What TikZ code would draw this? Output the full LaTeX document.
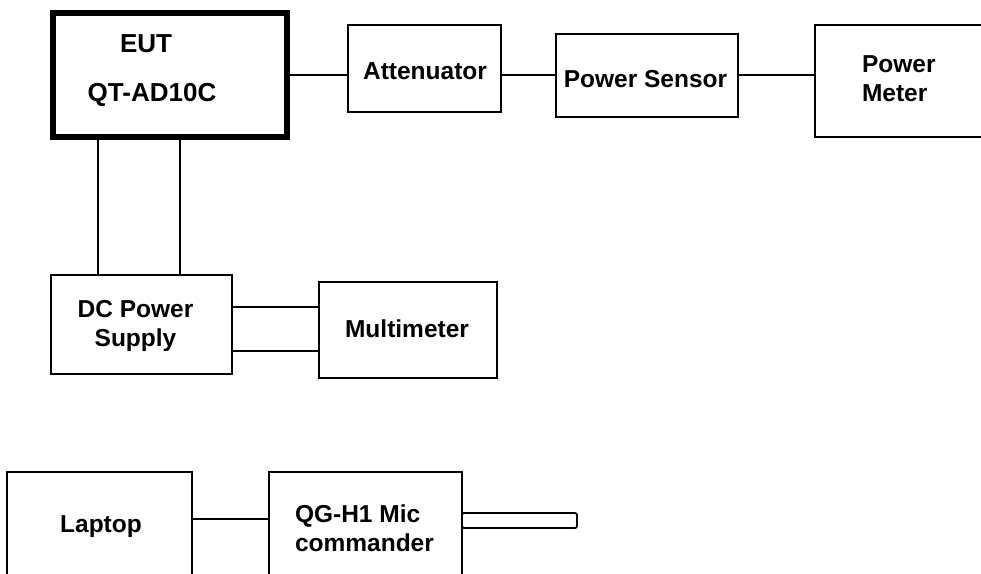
\documentclass[tikz,border=0pt]{standalone}
\usepackage{fontspec}
\setmainfont{Liberation Sans}
\begin{document}
\begin{tikzpicture}[x=1pt,y=-1pt,
  box/.style={draw=black,line width=1.8pt,inner sep=0pt,outer sep=0pt},
  wire/.style={draw=black,line width=1.8pt},
  lbl/.style={inner sep=0pt,outer sep=0pt,font=\bfseries\fontsize{24.5}{29}\selectfont},
  biglbl/.style={inner sep=0pt,outer sep=0pt,font=\bfseries\fontsize{26}{31}\selectfont}]
\useasboundingbox (0,0) rectangle (981,573);
\fill[white] (0,0) rectangle (981,573);
% boxes
\node[box,line width=6pt,minimum width=234pt,minimum height=124pt] (eut) at (170,75) {};
\node[box,minimum width=153pt,minimum height=87pt] (att) at (424.5,68.5) {};
\node[box,minimum width=182pt,minimum height=83pt] (ps) at (647,75.5) {};
\node[box,minimum width=195pt,minimum height=112pt] (pm) at (912.5,81) {};
\node[box,minimum width=181pt,minimum height=99pt] (dc) at (141.5,324.5) {};
\node[box,minimum width=178pt,minimum height=96pt] (mm) at (408,330) {};
\node[box,minimum width=185pt,minimum height=150pt] (lap) at (99.5,547) {};
\node[box,minimum width=193pt,minimum height=150pt] (mic) at (365.5,547) {};
\node[box,rounded corners=2pt,minimum width=115pt,minimum height=15pt] (ant) at (519.5,520.5) {};
% labels
\node[biglbl,anchor=base] (teut) at (146,52.3) {EUT};
\node[biglbl,anchor=base] (tqt) at (152,101) {QT-AD10C};
\node[lbl,anchor=base] (tatt) at (425,79) {Attenuator};
\node[lbl,anchor=base] (tps) at (645.5,87) {Power Sensor};
\node[lbl,anchor=north west,align=left] (tpm) at (862,51.7) {\strut Power\\\strut Meter};
\node[lbl,anchor=north,align=center] (tdc) at (135.5,296.7) {\strut DC Power\\\strut Supply};
\node[lbl,anchor=base] (tmm) at (407,337) {Multimeter};
\node[lbl,anchor=base] (tlap) at (101,532) {Laptop};
\node[lbl,anchor=north west,align=left] (tmic) at (295,501.7) {\strut QG-H1 Mic\\\strut commander};
% connectors
\coordinate (r1) at (0,75);
\draw[wire] (eut.east |- r1) -- (att.west |- r1);
\draw[wire] (att.east |- r1) -- (ps.west |- r1);
\draw[wire] (ps.east |- r1) -- (pm.west |- r1);
\coordinate (v1) at (98,0);
\coordinate (v2) at (180,0);
\draw[wire] (eut.south -| v1) -- (dc.north -| v1);
\draw[wire] (eut.south -| v2) -- (dc.north -| v2);
\coordinate (h1) at (0,307);
\coordinate (h2) at (0,351);
\draw[wire] (dc.east |- h1) -- (mm.west |- h1);
\draw[wire] (dc.east |- h2) -- (mm.west |- h2);
\coordinate (h3) at (0,519);
\draw[wire] (lap.east |- h3) -- (mic.west |- h3);
\end{tikzpicture}
\end{document}
